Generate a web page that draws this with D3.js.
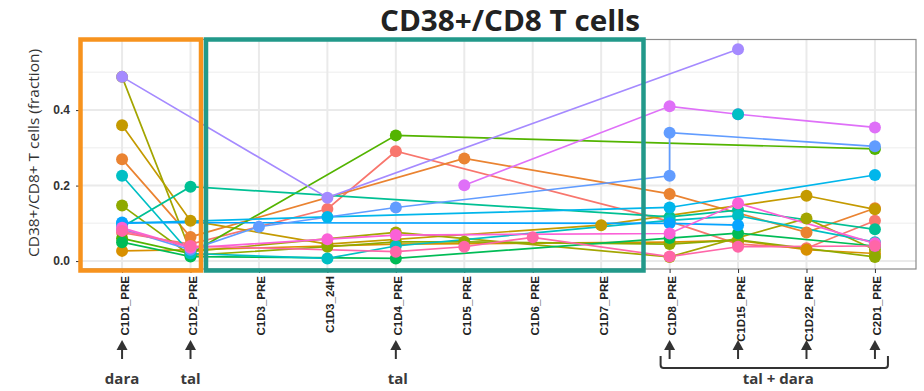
<!DOCTYPE html>
<html>
<head>
<meta charset="utf-8">
<script src="https://cdn.jsdelivr.net/npm/d3@7"></script>
<style>
  body { margin: 0; background: #fff; }
  svg { display: block; }
</style>
</head>
<body>
<svg id="chart"></svg>
<script>
const _ = null

// timepoints on the x axis
const categories = ["C1D1_PRE", "C1D2_PRE", "C1D3_PRE", "C1D3_24H", "C1D4_PRE", "C1D5_PRE",
  "C1D6_PRE", "C1D7_PRE", "C1D8_PRE", "C1D15_PRE", "C1D22_PRE", "C2D1_PRE"]

const yTicks = [0, 0.2, 0.4]
const yMinor = [0.1, 0.3, 0.5]

// one array per patient, one value per timepoint (null = no sample)
const p01 = [0.075, 0.045, _, 0.138, 0.291, _, _, _, 0.105, 0.045, 0.034, 0.107]
const p02 = [0.27, 0.064, _, _, _, 0.272, _, _, 0.178, _, 0.076, 0.14]
const p03 = [0.027, 0.03, _, _, 0.045, _, _, _, 0.05, 0.055, 0.03, 0.02]
const p04 = [0.36, 0.107, _, 0.045, _, _, _, 0.095, _, _, 0.173, 0.137]
const p05 = [0.488, 0.025, _, _, 0.076, _, _, _, 0.011, _, 0.113, 0.03]
const p06 = [0.147, 0.015, _, 0.038, 0.051, 0.051, _, _, 0.045, 0.056, _, 0.011]
const p07 = [0.06, 0.02, _, _, 0.333, _, _, _, _, _, _, 0.297]
const p08 = [0.05, 0.012, _, _, 0.007, _, _, _, 0.061, 0.074, _, 0.04]
const p09 = [0.09, 0.197, _, _, _, _, _, _, 0.117, 0.135, _, 0.084]
const p10 = [0.226, 0.02, _, 0.007, 0.04, _, _, _, 0.108, 0.12, _, 0.05]
const p11 = [0.1, _, _, 0.117, _, _, _, _, 0.142, _, _, 0.228]
const p12 = [0.102, _, _, _, _, _, _, _, 0.1, 0.095, _, _]
const p13 = [0.085, 0.03, 0.091, _, 0.142, _, _, _, [0.226, 0.34], _, _, 0.304]
const p14 = [0.488, _, _, 0.168, _, _, _, _, _, 0.561, _, _]
const p15 = [_, _, _, _, _, 0.201, _, _, 0.41, 0.389, _, 0.354]
const p16 = [0.088, 0.035, _, 0.058, 0.069, _, _, _, 0.073, 0.153, _, 0.047]
const p17 = [0.08, 0.04, _, _, 0.025, 0.038, 0.063, _, 0.012, 0.038, _, 0.04]
const p18 = [_, _, _, _, _, _, _, _, _, 0.389, _, _]

const patients = [p01, p02, p03, p04, p05, p06, p07, p08, p09, p10, p11, p12, p13, p14, p15, p16, p17, p18]
const colours = ["#F8766D", "#EA8331", "#D89000", "#C49A00", "#A3A500", "#8FAA00", "#53B400", "#00BC56",
  "#00C094", "#00BFC4", "#00B6EB", "#06A4FF", "#619CFF", "#A58AFF", "#DF70F8", "#FB61D7", "#FF66A8", "#00BFC4"]

const arrowAt = ["C1D1_PRE", "C1D2_PRE", "C1D4_PRE", "C1D8_PRE", "C1D15_PRE", "C1D22_PRE", "C2D1_PRE"]

const width = 924, height = 391
const panel = { left: 81, right: 916, top: 39.5, bottom: 269 }

const svg = d3.select("#chart")
  .attr("width", width)
  .attr("height", height)
  .style("font-family", "'Open Sans', sans-serif")

const x = d3.scalePoint()
  .domain(categories)
  .range([panel.left, panel.right])
  .padding(0.6)

const y = d3.scaleLinear()
  .domain([-0.021, 0.587])
  .range([panel.bottom, panel.top])

// panel background + grid
svg.append("rect")
  .attr("x", panel.left).attr("y", panel.top)
  .attr("width", panel.right - panel.left).attr("height", panel.bottom - panel.top)
  .attr("fill", "#fff")

svg.append("g").selectAll("line")
  .data(yMinor)
  .join("line")
  .attr("x1", panel.left).attr("x2", panel.right)
  .attr("y1", d => y(d)).attr("y2", d => y(d))
  .attr("stroke", "#F3F3F3").attr("stroke-width", 1.5)

svg.append("g").selectAll("line")
  .data(yTicks)
  .join("line")
  .attr("x1", panel.left).attr("x2", panel.right)
  .attr("y1", d => y(d)).attr("y2", d => y(d))
  .attr("stroke", "#EAEAEA").attr("stroke-width", 2)

svg.append("g").selectAll("line")
  .data(categories)
  .join("line")
  .attr("x1", d => x(d)).attr("x2", d => x(d))
  .attr("y1", panel.top).attr("y2", panel.bottom)
  .attr("stroke", "#EAEAEA").attr("stroke-width", 2)

svg.append("rect")
  .attr("x", panel.left).attr("y", panel.top)
  .attr("width", panel.right - panel.left).attr("height", panel.bottom - panel.top)
  .attr("fill", "none")
  .attr("stroke", "#8a8a8a").attr("stroke-width", 1.2)

// turn each patient into a list of points, gaps skipped
const tracks = patients.map((vals, i) => {
  const pts = []
  vals.forEach((v, j) => {
    if (v === null) return
    const vs = Array.isArray(v) ? v : [v]
    vs.forEach(val => pts.push({ cat: categories[j], value: val }))
  })
  return { colour: colours[i], pts }
})

const line = d3.line()
  .x(d => x(d.cat))
  .y(d => y(d.value))

svg.append("g").selectAll("path")
  .data(tracks)
  .join("path")
  .attr("d", d => line(d.pts))
  .attr("fill", "none")
  .attr("stroke", d => d.colour)
  .attr("stroke-width", 1.7)

const dots = svg.append("g")
tracks.forEach(t => {
  dots.selectAll(null)
    .data(t.pts)
    .join("circle")
    .attr("cx", d => x(d.cat))
    .attr("cy", d => y(d.value))
    .attr("r", 6)
    .attr("fill", t.colour)
})

// axes
const yAxis = svg.append("g")
  .attr("transform", `translate(${panel.left - 1},0)`)
  .call(d3.axisLeft(y).tickValues(yTicks).tickFormat(d3.format(".1f")).tickSize(4).tickPadding(6))
yAxis.select(".domain").remove()
yAxis.selectAll("line").attr("stroke", "#333")
yAxis.selectAll("text")
  .attr("font-size", 12).attr("font-weight", "bold").attr("fill", "#333")
  .attr("font-family", "'Liberation Sans', Arial, sans-serif")

const xAxis = svg.append("g")
  .attr("transform", `translate(0,${panel.bottom})`)
  .call(d3.axisBottom(x).tickSize(4))
xAxis.select(".domain").remove()
xAxis.selectAll("line").attr("stroke", "#333")
xAxis.selectAll("text")
  .attr("transform", "rotate(-90)")
  .attr("x", -7).attr("y", 2)
  .attr("dy", "0.35em")
  .attr("text-anchor", "end")
  .attr("font-size", 11.5).attr("font-weight", "bold").attr("fill", "#222")
  .attr("font-family", "'Liberation Sans Narrow', 'Arial Narrow', sans-serif")

// titles
svg.append("text")
  .attr("x", 510).attr("y", 31)
  .attr("text-anchor", "middle")
  .attr("font-size", 28).attr("font-weight", "bold").attr("fill", "#222")
  .attr("textLength", 260).attr("lengthAdjust", "spacingAndGlyphs")
  .text("CD38+/CD8 T cells")

svg.append("text")
  .attr("transform", "translate(39,153) rotate(-90)")
  .attr("text-anchor", "middle")
  .attr("font-size", 15).attr("fill", "#333")
  .attr("textLength", 208).attr("lengthAdjust", "spacingAndGlyphs")
  .text("CD38+/CD8+ T cells (fraction)")

// highlight boxes
svg.append("rect")
  .attr("x", 80.5).attr("y", 39.5).attr("width", 120.5).attr("height", 231)
  .attr("fill", "none").attr("stroke", "#F7931E").attr("stroke-width", 4.5)

svg.append("rect")
  .attr("x", 206).attr("y", 39.5).attr("width", 437.5).attr("height", 231)
  .attr("fill", "none").attr("stroke", "#22998A").attr("stroke-width", 4.5)

// dosing arrows
const ann = svg.append("g").attr("fill", "#333").attr("stroke", "#333")
arrowAt.forEach(c => {
  const cx = x(c)
  ann.append("line")
    .attr("x1", cx).attr("x2", cx).attr("y1", 359).attr("y2", 348)
    .attr("stroke-width", 2)
  ann.append("path")
    .attr("d", `M${cx},340 L${cx - 5.5},350 L${cx + 5.5},350 Z`)
    .attr("stroke", "none")
})

const bx0 = x("C1D8_PRE") - 9, bx1 = x("C2D1_PRE") + 13
svg.append("path")
  .attr("d", `M${bx0},356 V365 Q${bx0},368 ${bx0 + 3},368 H${bx1 - 3} Q${bx1},368 ${bx1},365 V356`)
  .attr("fill", "none").attr("stroke", "#333").attr("stroke-width", 2)

const labels = [
  { text: "dara", at: x("C1D1_PRE") },
  { text: "tal", at: x("C1D2_PRE") },
  { text: "tal", at: x("C1D4_PRE") + 2 },
  { text: "tal + dara", at: (x("C1D8_PRE") + x("C2D1_PRE")) / 2 + 6 }
]
svg.append("g").selectAll("text")
  .data(labels)
  .join("text")
  .attr("x", d => d.at).attr("y", 384)
  .attr("text-anchor", "middle")
  .attr("font-size", 15).attr("font-weight", "bold").attr("fill", "#3a3a3a")
  .text(d => d.text)
</script>
</body>
</html>
